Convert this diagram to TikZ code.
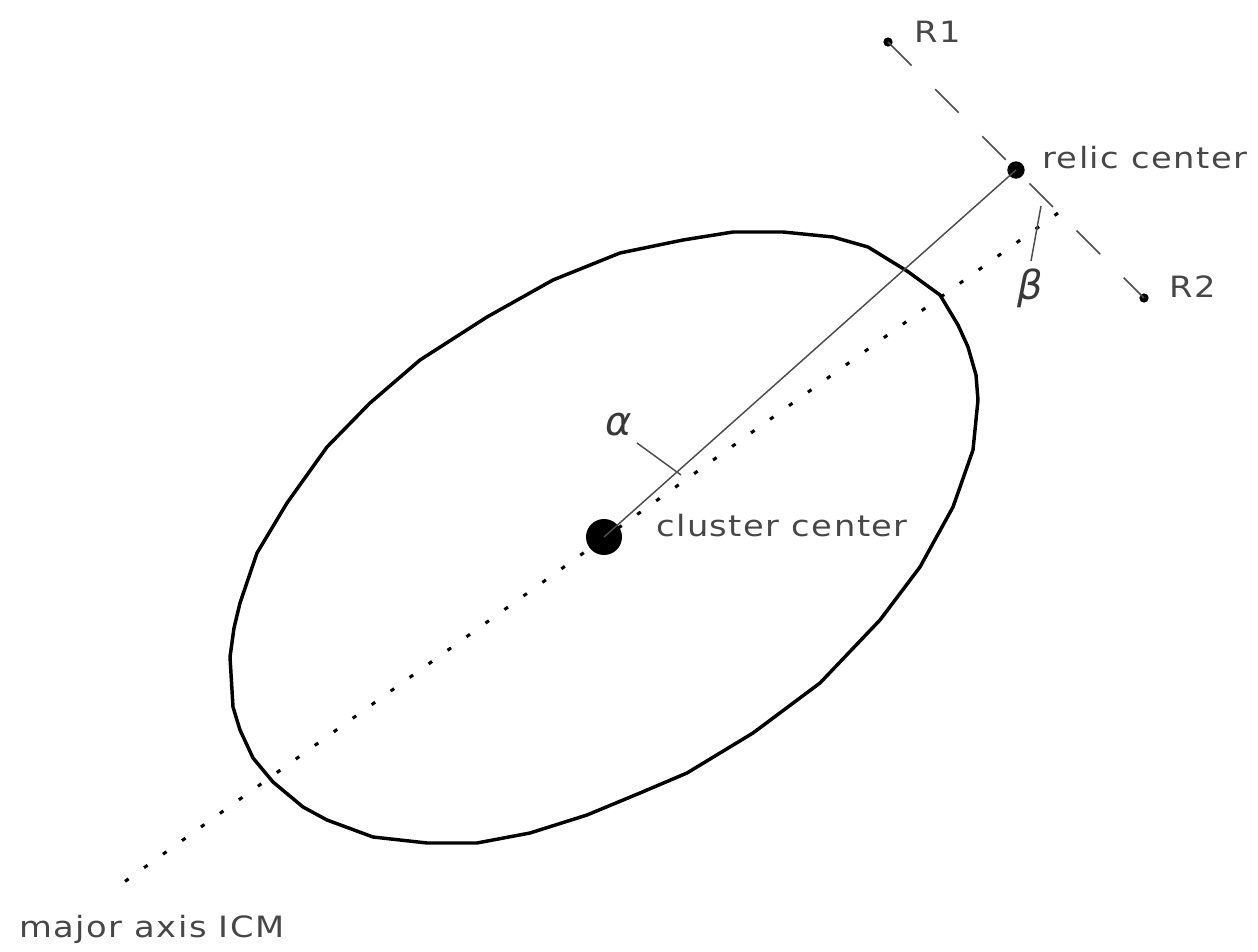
\documentclass[tikz,border=0pt]{standalone}
\usepackage{fontspec}
\newfontfamily\labfont[FakeStretch=1.15,LetterSpace=5]{DejaVu Sans}
\newfontfamily\grkfont{DejaVu Sans}
\begin{document}
\begin{tikzpicture}[x=0.75pt,y=-0.75pt,
  lab/.style={font=\labfont\fontsize{22pt}{26pt}\selectfont, text=black!72, inner sep=0pt, anchor=base west},
  grk/.style={font=\grkfont\itshape\fontsize{30pt}{34pt}\selectfont, text=black!78, inner sep=0pt},
  blob/.style={circle, fill=black, draw=none, inner sep=0pt},
  thinline/.style={draw=black!70, line width=1.1pt},
  dashline/.style={draw=black!70, line width=1.2pt, dash pattern=on 25pt off 25pt},
  dotline/.style={draw=black, line width=2.3pt, dash pattern=on 3.2pt off 14.3pt},
  ellipseline/.style={draw=black, line width=2.6pt, line join=round},
  tick/.style={draw=black!70, line width=1.1pt}]
\useasboundingbox (0,0) rectangle (1258,952);

% ellipse (ICM)
\draw[ellipseline] (733,232) -- (783,232) -- (833,237) -- (868,247) -- (907,271) -- (940,295)
  -- (958,325) -- (968,347) -- (976,375) -- (978,400) -- (973,450) -- (953,507) -- (920,567)
  -- (880,620) -- (820,683) -- (753,733) -- (687,773) -- (640,793) -- (587,815) -- (530,833)
  -- (477,843) -- (427,843) -- (373,837) -- (327,820) -- (303,807) -- (273,782) -- (253,758)
  -- (240,730) -- (233,707) -- (230,657) -- (234,628) -- (240,603) -- (257,553) -- (287,503)
  -- (327,447) -- (370,403) -- (420,360) -- (487,317) -- (553,280) -- (620,253) -- (683,240)
  -- cycle;

% points
\node[blob, minimum size=27pt] (cc) at (604,537) {};
\node[blob, minimum size=13pt] (rc) at (1016,170) {};
\node[blob, minimum size=7pt] (r1) at (888,42) {};
\node[blob, minimum size=7pt] (r2) at (1144,298) {};
\coordinate (axtop) at (1058,213);
\coordinate (axbot) at (120,885);

% lines
\draw[dotline] (axtop) -- (axbot);
\draw[dashline] (r1.center) -- (r2.center);
\draw[thinline] (cc.center) -- (rc.center);

% angle ticks
\coordinate (a1) at (637,443);
\coordinate (a2) at (681,475);
\draw[tick] (a1) -- (a2);
\coordinate (b1) at (1041,206);
\coordinate (b2) at (1031,261);
\draw[tick] (b1) -- (b2);

% labels
\node[lab] (tr1) at (914,43) {R1};
\node[lab] (tr2) at (1169,298) {R2};
\node[lab] (trc) at (1042,169) {relic center};
\node[lab] (tcc) at (656,537) {cluster center};
\node[lab] (tax) at (19,937) {major axis ICM};
\node[grk] (alpha) at (619,425) {α};
\node[grk] (beta) at (1030,288) {β};
\end{tikzpicture}
\end{document}
